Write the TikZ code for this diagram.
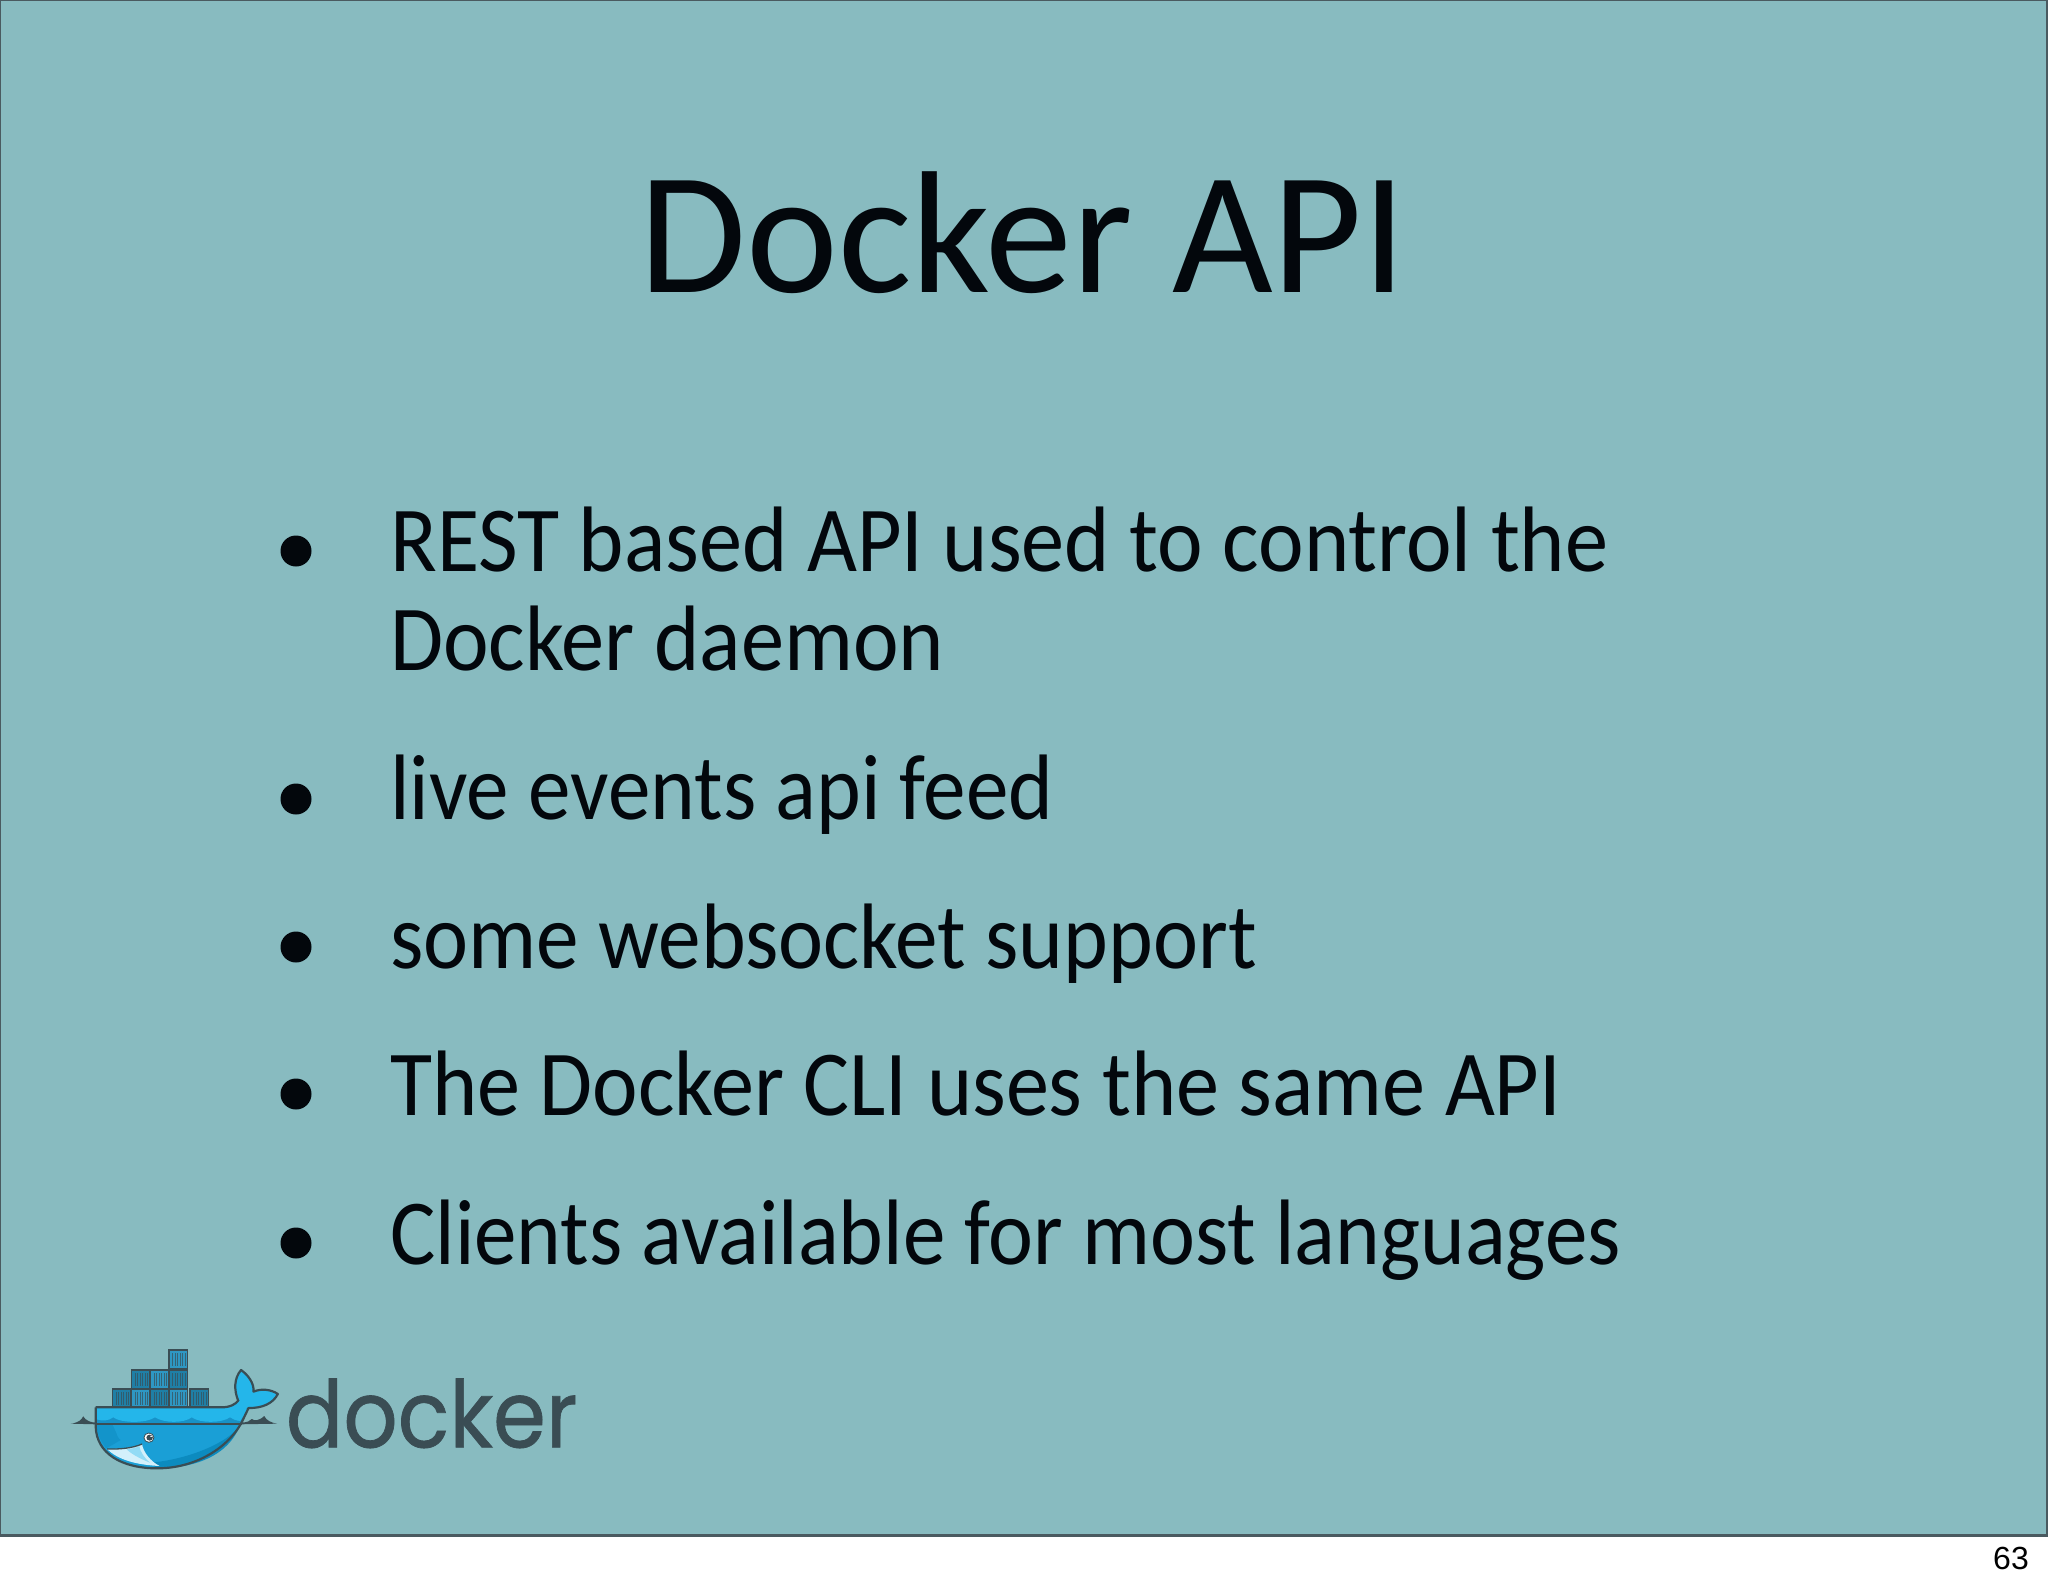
\documentclass[tikz,border=0pt]{standalone}
\usepackage{fontspec}
\setmainfont{Carlito}
\newfontfamily\logofont[FakeBold=0.8]{Poppins}
\newfontfamily\numfont{Liberation Sans}
\definecolor{slidebg}{HTML}{88BBC0}
\definecolor{framecol}{HTML}{4A5A60}
\definecolor{inkcol}{HTML}{03070C}
\definecolor{logoink}{HTML}{3A4D54}
\definecolor{hullup}{HTML}{24B6EA}
\definecolor{hullband}{HTML}{1792C8}
\definecolor{hullmid}{HTML}{1A9FD6}
\definecolor{hulldark}{HTML}{1394CA}
\definecolor{hulllow}{HTML}{0C8BBF}
\definecolor{boxa}{HTML}{1F7FA6}
\definecolor{boxb}{HTML}{2E97C3}
\tikzset{
  bodytext/.style={anchor=base west,inner sep=0pt,text=inkcol,font=\fontsize{93}{93}\selectfont},
  bulletdot/.style={circle,fill=inkcol,draw=none,minimum size=31pt,inner sep=0pt},
  logoline/.style={draw=logoink,line width=2.2pt,line join=round},
}
\newcommand{\crate}[3]{%
  \fill[#3,draw=logoink,line width=1.6pt] (#1,#2) rectangle +(52,55);
  \foreach \s in {10,17,24,31,38,45}{\draw[logoink!70!#3,line width=0.7pt] (#1+\s,#2+9) -- (#1+\s,#2+47);}
}
\begin{document}
\begin{tikzpicture}[x=1pt,y=-1pt]
\useasboundingbox (0,0) rectangle (2048,1587);
\fill[white] (0,0) rectangle (2048,1587);
\fill[slidebg,draw=framecol,line width=1.5pt] (0.5,0.5) rectangle (2047,1535);
\draw[framecol,line width=2.5pt] (0,1535.5) -- (2048,1535.5);
\node[anchor=base,inner sep=0pt,text=inkcol,font=\fontsize{174}{174}\selectfont] (title) at (1023,292) {Docker API};
\node[bulletdot] (b1) at (296,551) {};
\node[bulletdot] (b2) at (296,799) {};
\node[bulletdot] (b3) at (296,947) {};
\node[bulletdot] (b4) at (296,1094) {};
\node[bulletdot] (b5) at (296,1243) {};
\node[bodytext] (l1) at (390,571) {\scalebox{0.928}[1]{REST based API used to control the}};
\node[bodytext] (l1b) at (390,670) {\scalebox{0.929}[1]{Docker daemon}};
\node[bodytext] (l2) at (390,819) {\scalebox{0.916}[1]{live events api feed}};
\node[bodytext] (l3) at (390,968) {\scalebox{0.917}[1]{some websocket support}};
\node[bodytext] (l4) at (390,1115) {\scalebox{0.927}[1]{The Docker CLI uses the same API}};
\node[bodytext] (l5) at (390,1264) {\scalebox{0.915}[1]{Clients available for most languages}};
\node[anchor=base east,inner sep=0pt,text=black,font=\numfont\fontsize{32}{32}\selectfont] (page) at (2029,1569) {63};
% logo, drawn in crop coordinates
\begin{scope}[shift={(50,1320)},x=0.3571pt,y=-0.3333pt]
  \crate{333}{90}{boxb}
  \crate{228}{150}{boxa}\crate{281}{150}{boxb}\crate{333}{150}{boxa}
  \crate{175}{207}{boxa}\crate{228}{207}{boxb}\crate{281}{207}{boxa}\crate{333}{207}{boxb}\crate{392}{207}{boxa}
  % water
  \fill[logoink] (58,311) .. controls (80,308) and (88,300) .. (93,289) .. controls (100,302) and (115,308) .. (130,308) -- (130,313) -- cycle;
  \fill[logoink] (530,308) .. controls (555,308) and (560,302) .. (565,297) .. controls (572,303) and (585,303) .. (600,288) .. controls (606,302) and (620,308) .. (636,311) -- (530,313) -- cycle;
  % hull
  \path[fill=hullmid] (128,262) -- (128,320) .. controls (130,400) and (200,445) .. (300,445) .. controls (420,445) and (510,370) .. (540,300) -- (558,262) -- cycle;
  \fill[hullband] (128,290) -- (540,290) -- (530,311) -- (128,311) -- cycle;
  \fill[hullup] (128,264) -- (480,264) .. controls (510,262) and (525,250) .. (535,235) -- (556,262) -- (533,303) .. controls (522,302) and (512,298) .. (504,292) .. controls (480,310) and (420,310) .. (397,292) .. controls (375,310) and (320,310) .. (294,292) .. controls (270,310) and (200,310) .. (177,292) .. controls (165,302) and (148,304) .. (130,298) -- cycle;
  \fill[hulldark] (130,313) -- (530,313) .. controls (470,322) and (300,322) .. (240,340) .. controls (205,352) and (185,370) .. (157,385) .. controls (140,360) and (131,340) .. (130,313) -- cycle;
  \fill[hullmid] (175,313) -- (530,313) .. controls (470,325) and (330,322) .. (240,352) .. controls (215,360) and (195,368) .. (190,350) .. controls (185,335) and (180,325) .. (175,313) -- cycle;
  \fill[hulllow] (280,428) .. controls (380,420) and (500,370) .. (532,315) .. controls (500,410) and (400,445) .. (300,445) -- cycle;
  % tail
  \path[fill=hullup,logoline] (527,242) .. controls (515,210) and (515,175) .. (535,150) .. controls (555,165) and (572,190) .. (570,215) .. controls (590,205) and (620,208) .. (638,222) .. controls (625,250) and (595,265) .. (555,264) .. controls (545,262) and (535,250) .. (527,242) -- cycle;
  \fill[hullup] (524,246) -- (540,236) -- (560,255) -- (545,272) -- cycle;
  % belly
  \fill[white!80!hullup] (160,387) .. controls (195,388) and (230,385) .. (258,372) .. controls (260,395) and (282,425) .. (307,438) .. controls (245,435) and (190,420) .. (160,387) -- cycle;
  \fill[white!50!hullup] (215,388) .. controls (230,386) and (245,382) .. (250,378) .. controls (252,395) and (265,415) .. (280,428) .. controls (250,415) and (225,400) .. (215,388) -- cycle;
  \draw[logoink,line width=1.3pt] (160,387) .. controls (195,388) and (230,385) .. (258,372);
  % outline
  \draw[logoline] (128,262) -- (480,262) .. controls (505,262) and (520,252) .. (527,242);
  \draw[logoline] (128,262) -- (128,320) .. controls (130,400) and (200,445) .. (300,445) .. controls (420,445) and (510,370) .. (540,300) -- (556,264);
  \draw[logoink,line width=2.2pt] (128,311) -- (538,311);
  % eye
  \fill[white,draw=logoink,line width=0.8pt] (277,353) circle (14);
  \fill[logoink] (279,353) circle (9);
  \fill[white] (283,349) circle (2.5);
  \node[anchor=base west,inner sep=0pt,text=logoink,font=\logofont\fontsize{93}{93}\selectfont] (logoword) at (660,382) {\scalebox{0.914}[1]{docker}};
\end{scope}
\end{tikzpicture}
\end{document}
